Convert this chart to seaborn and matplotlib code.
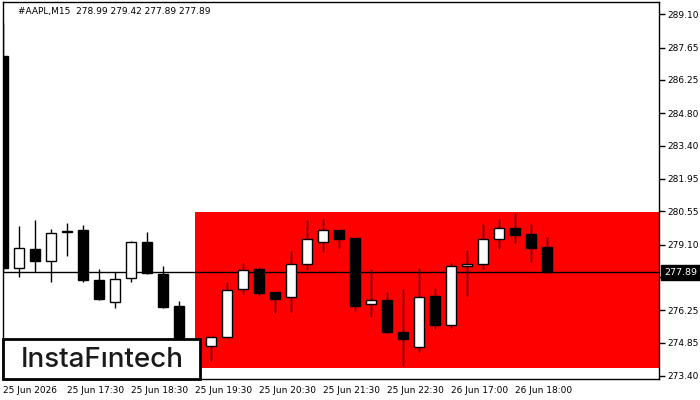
import matplotlib
matplotlib.use("Agg")
import matplotlib.pyplot as plt
import numpy as np
import seaborn as sns
from matplotlib.patches import Rectangle

# M15 candles, AAPL
opens = [287.29, 278.07, 278.91, 278.38, 279.63, 279.74, 277.56, 276.60, 277.64, 279.20,
         277.82, 276.44, 274.60, 274.71, 275.08, 277.16, 278.04, 277.04, 276.81, 278.25,
         279.23, 279.74, 279.39, 276.51, 276.70, 275.31, 274.64, 276.87, 275.62, 278.16,
         278.25, 279.33, 279.81, 279.55, 278.99]
highs = [288.72, 279.91, 280.17, 279.78, 280.04, 279.95, 278.04, 277.90, 279.26, 279.66,
         278.17, 276.67, 274.90, 275.08, 277.48, 278.32, 278.14, 277.05, 278.84, 280.17,
         280.21, 279.75, 279.40, 278.04, 277.04, 277.17, 278.07, 277.20, 278.30, 278.87,
         280.00, 280.21, 280.46, 280.00, 279.42]
lows = [277.95, 277.68, 277.92, 277.46, 278.62, 277.46, 276.70, 276.36, 277.49, 277.84,
        276.34, 274.45, 274.10, 274.06, 275.06, 276.96, 276.91, 276.14, 276.19, 278.00,
        278.79, 278.97, 276.23, 275.97, 275.28, 273.84, 274.45, 275.42, 275.49, 276.88,
        278.05, 278.92, 279.16, 278.36, 277.89]
closes = [278.09, 278.94, 278.40, 279.59, 279.68, 277.56, 276.74, 277.61, 279.20, 277.86,
          276.40, 274.60, 274.72, 275.08, 277.13, 278.00, 277.01, 276.75, 278.26, 279.33,
          279.74, 279.36, 276.45, 276.70, 275.32, 275.02, 276.81, 275.62, 278.16, 278.25,
          279.33, 279.81, 279.53, 278.97, 277.89]

last_price = 277.89
header = "#AAPL,M15  278.99 279.42 277.89 277.89"

# pattern zone
zone_start = 12
zone_top = 280.50
zone_bottom = 273.76

x_tick_pos = [0, 4, 8, 12, 16, 20, 24, 28, 32]
x_tick_labels = ["25 Jun 2026", "25 Jun 17:30", "25 Jun 18:30", "25 Jun 19:30",
                 "25 Jun 20:30", "25 Jun 21:30", "25 Jun 22:30", "26 Jun 17:00",
                 "26 Jun 18:00"]
y_ticks = [273.40, 274.85, 276.25, 277.70, 279.10, 280.55, 281.95, 283.40,
           284.80, 286.25, 287.65, 289.10]

sns.set_style("white")
plt.rcParams['font.family'] = ['DejaVu Sans']

fig = plt.figure(figsize=(7, 4), dpi=100)
ax = fig.add_axes([3 / 700, 1 - 378.5 / 400, 656 / 700, 376.5 / 400])

x = np.arange(len(opens))
o = np.array(opens)
c = np.array(closes)
up = c >= o

ax.fill_between([zone_start, 41], zone_bottom, zone_top, color="#ff0000", lw=0, zorder=1)
ax.axhline(last_price, color="black", lw=1, zorder=2)
ax.vlines(x, lows, highs, color="black", lw=1, zorder=3)
ax.bar(x, np.maximum(np.abs(c - o), 0.03), bottom=np.minimum(o, c), width=0.64,
       color=np.where(up, "white", "black"), edgecolor="black", lw=1, zorder=4)

ax.set_xlim(0, 41)
ax.set_ylim(273.287, 289.635)

ax.yaxis.tick_right()
ax.set_yticks(y_ticks)
ax.set_yticklabels([f"{v:.2f}" for v in y_ticks])
ax.set_xticks(x_tick_pos)
ax.set_xticklabels(x_tick_labels, ha="left")
ax.tick_params(axis="both", direction="out", length=4, width=1, color="black",
               labelsize=6.5, labelcolor="black", pad=2)
ax.tick_params(axis="x", pad=1.5)
for s in ax.spines.values():
    s.set_color("black")
    s.set_linewidth(1)

ax.text(0.023, 0.976, header, transform=ax.transAxes, fontsize=6.5,
        ha="left", va="center", color="black")

# current price tag
ax.text(1.008, last_price, "277.89", transform=ax.get_yaxis_transform(),
        fontsize=6.8, color="white", ha="left", va="center", zorder=10, clip_on=False,
        bbox=dict(boxstyle="square,pad=0.3", fc="black", ec="black"))

# logo
ax.add_patch(Rectangle((0, 0), 0.3, 0.1036, transform=ax.transAxes, fc="white",
                       ec="black", lw=2, zorder=8, clip_on=False))
ax.text(0.152, 0.048, "InstaF\u0131ntech", transform=ax.transAxes, fontsize=20,
        family=["Inter", "DejaVu Sans"], fontweight="medium", color="#1a1a1a",
        ha="center", va="center", zorder=9)

fig.savefig("out.png", dpi=100)
